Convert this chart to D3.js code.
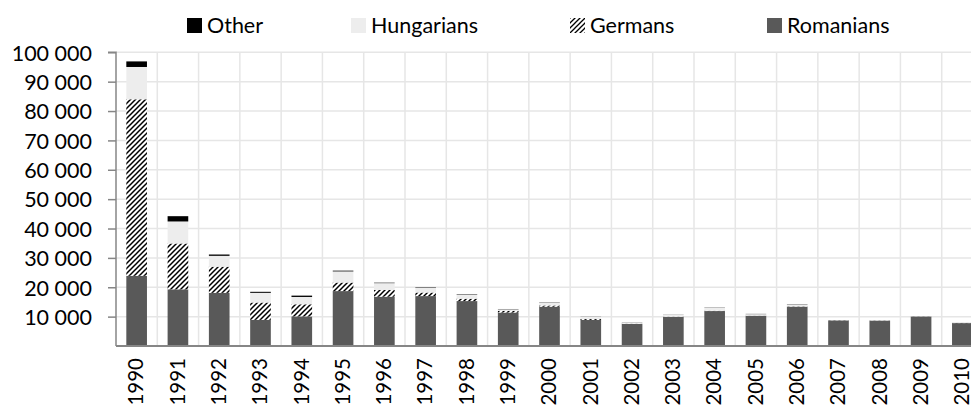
<!DOCTYPE html>
<html><head><meta charset="utf-8">
<script src="https://cdn.jsdelivr.net/npm/d3@7"></script>
<style>
body{margin:0;background:#fff;overflow:hidden}
text{font-family:Lato,"Open Sans",sans-serif;fill:#000}
</style>
</head><body>
<svg id="chart" width="971" height="412"></svg>
<script>
const years = ["1990","1991","1992","1993","1994","1995","1996","1997","1998","1999","2000","2001","2002","2003","2004","2005","2006","2007","2008","2009","2010"];
const romanians  = [23900,19300,18100,8900,10100,18700,16800,17000,15300,11400,13400,8900,7500,9900,11900,10300,13400,8700,8600,10000,7800];
const germans    = [60100,15600,8900,5900,4100,2900,2300,1200,800,600,400,300,100,100,100,50,100,60,50,50,40];
const hungarians = [11000,7500,3700,3300,2500,3800,2300,1600,1300,500,900,700,500,600,1000,500,600,50,50,100,50];
const other      = [1900,1800,450,350,450,250,150,150,150,100,100,50,50,50,80,80,100,20,20,40,20];
const stackOrder = ["Romanians","Germans","Hungarians","Other"];
const legendNames = ["Other","Hungarians","Germans","Romanians"];
const yTickValues = [10000,20000,30000,40000,50000,60000,70000,80000,90000,100000];

const seriesData = {Romanians: romanians, Germans: germans, Hungarians: hungarians, Other: other};
const rows = years.map((yr,i)=>{const r={year:yr}; stackOrder.forEach(k=>r[k]=seriesData[k][i]); return r;});

const svg = d3.select("#chart");
const defs = svg.append("defs");
const pat = defs.append("pattern").attr("id","hatch").attr("patternUnits","userSpaceOnUse")
  .attr("width",5).attr("height",5);
pat.append("rect").attr("width",5).attr("height",5).attr("fill","#fff");
pat.append("path").attr("d","M-1,6 L6,-1 M-1,1 L1,-1 M4,6 L6,4").attr("stroke","#000").attr("stroke-width",1.5);
const patL = defs.append("pattern").attr("id","hatchL").attr("patternUnits","userSpaceOnUse")
  .attr("width",5).attr("height",5);
patL.append("path").attr("d","M-1,6 L6,-1 M-1,1 L1,-1 M4,6 L6,4").attr("stroke","#000").attr("stroke-width",1.3);

const fills = {Romanians:"#595959", Germans:"url(#hatch)", Hungarians:"#ededed", Other:"#000"};
const legendFills = {Romanians:"#595959", Germans:"url(#hatchL)", Hungarians:"#ededed", Other:"#000"};

const pLeft = 116, pRight = 983, pTop = 52.3, pBottom = 346;
const x = d3.scaleBand().domain(years).range([pLeft,pRight]).paddingInner(0.5).paddingOuter(0.25);
const y = d3.scaleLinear().domain([0,100000]).range([pBottom,pTop]);

// gridlines
const step = x.step();
const g = svg.append("g");
g.selectAll("line.h").data(yTickValues).join("line")
  .attr("x1",pLeft).attr("x2",pRight).attr("y1",d=>y(d)).attr("y2",d=>y(d))
  .attr("stroke","#e6e6e6").attr("stroke-width",1.5);
g.selectAll("line.v").data(years).join("line")
  .attr("x1",(d,i)=>pLeft+(i+1)*step).attr("x2",(d,i)=>pLeft+(i+1)*step)
  .attr("y1",pTop).attr("y2",pBottom)
  .attr("stroke","#e6e6e6").attr("stroke-width",1.5);

// stacked bars
const stack = d3.stack().keys(stackOrder)(rows);
svg.append("g").selectAll("g").data(stack).join("g")
  .attr("fill",d=>fills[d.key])
  .selectAll("rect").data(d=>d).join("rect")
  .attr("x",d=>x(d.data.year)).attr("width",x.bandwidth())
  .attr("y",d=>y(d[1])).attr("height",d=>Math.max(0,y(d[0])-y(d[1])));

// y axis
const yAxis = d3.axisLeft(y).tickValues(yTickValues).tickSize(8).tickPadding(16)
  .tickFormat(d=>d3.format(",")(d).replace(/,/g," "));
const ya = svg.append("g").attr("transform",`translate(${pLeft},0)`).call(yAxis);
ya.select(".domain").attr("stroke","#868686").attr("stroke-width",1.5).attr("d",`M-8,${pTop}H0V${pBottom}`);
ya.selectAll(".tick line").attr("stroke","#868686").attr("stroke-width",1.5);
ya.selectAll(".tick text").style("font-size","21.5px").attr("font-family",null).attr("dy","0.36em");

// x axis
const xAxis = d3.axisBottom(x).tickSize(0).tickPadding(12);
const xa = svg.append("g").attr("transform",`translate(0,${pBottom})`).call(xAxis);
xa.select(".domain").attr("stroke","#868686").attr("stroke-width",2).attr("d",`M${pLeft},0H${pRight}`);
xa.selectAll(".tick text").style("font-size","20.5px").attr("font-family",null)
  .attr("transform","rotate(-90)").attr("text-anchor","end")
  .attr("x",-12).attr("y",0).attr("dy","0.33em");

// legend
const legendX = {Other:187, Hungarians:351, Germans:570, Romanians:767};
const lg = svg.append("g").selectAll("g").data(legendNames).join("g")
  .attr("transform",d=>`translate(${legendX[d]},18)`);
lg.append("rect").attr("width",15).attr("height",15).attr("fill",d=>legendFills[d]);
lg.append("text").attr("x",20).attr("y",15).style("font-size","21.5px").text(d=>d);
</script>
</body></html>
